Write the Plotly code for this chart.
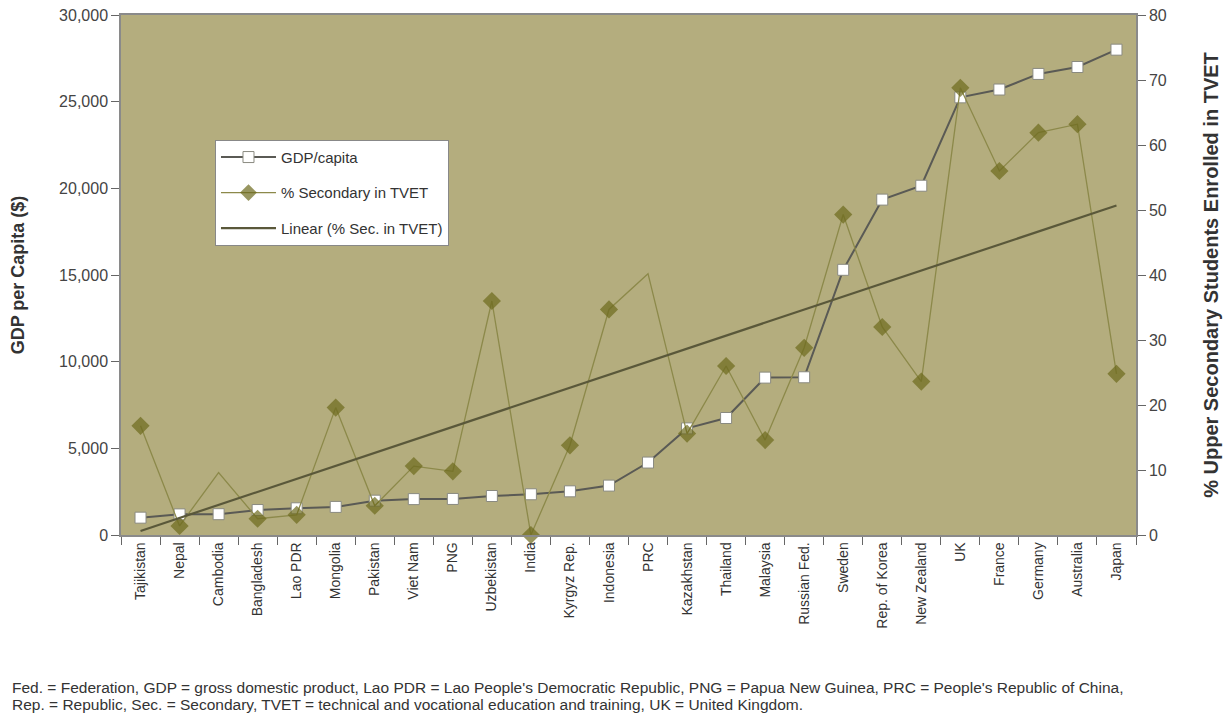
import numpy as np
import plotly.graph_objects as go

countries = ["Tajikistan", "Nepal", "Cambodia", "Bangladesh", "Lao PDR", "Mongolia", "Pakistan",
             "Viet Nam", "PNG", "Uzbekistan", "India", "Kyrgyz Rep.", "Indonesia", "PRC",
             "Kazakhstan", "Thailand", "Malaysia", "Russian Fed.", "Sweden", "Rep. of Korea",
             "New Zealand", "UK", "France", "Germany", "Australia", "Japan"]

gdp_per_capita = [1000, 1190, 1200, 1440, 1540, 1620, 1980, 2070, 2080, 2250, 2350, 2520, 2850,
                  4180, 6150, 6750, 9080, 9100, 15300, 19350, 20150, 25250, 25700, 26600, 27000, 28000]

tvet_share = [16.8, 1.4, 9.6, 2.5, 3.1, 19.6, 4.5, 10.6, 9.8, 36.0, 0.0, 13.8, 34.7, 40.2,
              15.6, 26.0, 14.6, 28.8, 49.3, 32.0, 23.6, 68.8, 56.0, 61.9, 63.2, 24.8]

no_marker = ["Cambodia", "PRC"]

footnote_lines = [
    "Fed. = Federation, GDP = gross domestic product, Lao PDR = Lao People's Democratic Republic, "
    "PNG = Papua New Guinea, PRC = People's Republic of China,",
    "Rep. = Republic, Sec. = Secondary, TVET = technical and vocational education and training, "
    "UK = United Kingdom.",
]

x_idx = np.arange(len(countries))
slope, intercept = np.polyfit(x_idx, tvet_share, 1)
trend = slope * x_idx + intercept

FONT = "Liberation Sans, Arial, sans-serif"
fig = go.Figure()

fig.add_trace(go.Scatter(
    x=countries, y=gdp_per_capita, name="GDP/capita", mode="lines+markers",
    line=dict(color="#5a5a55", width=2),
    marker=dict(symbol="square", size=11, color="white", line=dict(color="#8a8a80", width=1)),
    legendgroup="a", cliponaxis=False))

fig.add_trace(go.Scatter(
    x=countries, y=tvet_share, name="% Secondary in TVET", mode="lines+markers", yaxis="y2",
    line=dict(color="#8c894a", width=1.3),
    marker=dict(symbol="diamond", size=[0 if c in no_marker else 14 for c in countries],
                color="#6c6a1c", line=dict(width=0)),
    legendgroup="b", cliponaxis=False))

fig.add_trace(go.Scatter(
    x=countries, y=trend, name="Linear (% Sec. in TVET)", mode="lines", yaxis="y2",
    line=dict(color="#5a583a", width=2.2),
    legendgroup="c"))

fig.update_layout(
    width=1226, height=717,
    margin=dict(l=121, r=90, t=15, b=182),
    paper_bgcolor="white", plot_bgcolor="#b4ad7e",
    font=dict(family=FONT, color="#444444", size=14),
    showlegend=True,
    legend=dict(x=0.0926, y=0.76, xanchor="left", yanchor="top",
                bgcolor="white", bordercolor="#888888", borderwidth=1,
                font=dict(size=15, color="#333333"), tracegroupgap=13,
                traceorder="grouped", itemwidth=55),
    xaxis=dict(type="category", showgrid=False, showline=True, linecolor="#8a8a8a", linewidth=1.5,
               mirror=True, ticks="outside", ticklen=8, tickcolor="#666666", tickson="boundaries",
               tickangle=-90, tickfont=dict(size=14, color="#333333"), range=[-0.5, 25.5],
               automargin=False),
    yaxis=dict(range=[0, 30000], dtick=5000, tickformat=",", showgrid=False, zeroline=False,
               showline=True, linecolor="#8a8a8a", linewidth=1.5, ticks="outside", ticklen=8,
               tickcolor="#666666", tickfont=dict(size=16, color="#444444"), automargin=False,
               title=dict(text="<b>GDP per Capita ($)</b>", font=dict(size=18, color="#333333"), standoff=30)),
    yaxis2=dict(range=[0, 80], dtick=10, overlaying="y", side="right", showgrid=False, zeroline=False,
                showline=True, linecolor="#8a8a8a", linewidth=1.5, ticks="outside", ticklen=8,
                tickcolor="#666666", tickfont=dict(size=16, color="#444444"), automargin=False,
                title=dict(text="<b>% Upper Secondary Students Enrolled in TVET</b>",
                           font=dict(size=20, color="#333333"), standoff=38)),
)

for line_text, y_pos in zip(footnote_lines, [-0.2942, -0.325]):
    fig.add_annotation(
        xref="paper", yref="paper", x=-0.1094, y=y_pos, xanchor="left", yanchor="middle", align="left",
        showarrow=False, font=dict(size=15.5, color="#333333"), text=line_text)

fig.write_html("out.html", config={"displayModeBar": False},
               post_script="document.body.style.margin='0px';")
